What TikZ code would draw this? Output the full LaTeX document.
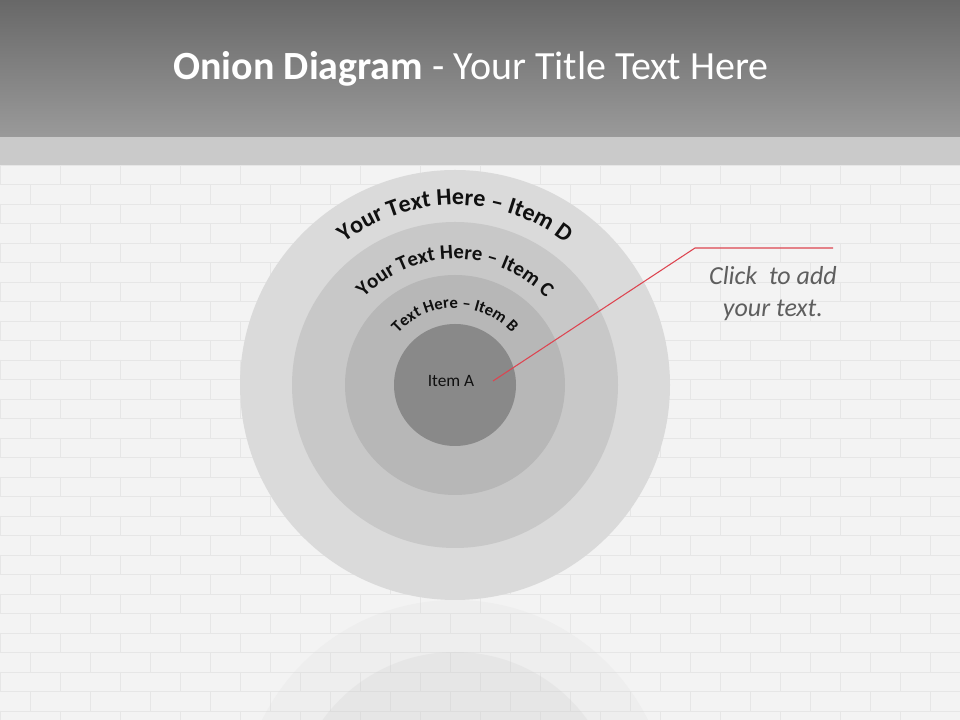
\documentclass[tikz,border=0pt]{standalone}
\usepackage{fontspec}
\setmainfont{Carlito}
\usepackage{tikz}
\usetikzlibrary{calc,positioning,decorations.text}
\definecolor{bannertop}{HTML}{686868}
\definecolor{bannerbot}{HTML}{9A9A9A}
\definecolor{bandcol}{HTML}{C6C6C6}
\definecolor{wallcol}{HTML}{F3F3F3}
\definecolor{mortarcol}{HTML}{E6E6E6}
\definecolor{ringDcol}{HTML}{DADADA}
\definecolor{ringCcol}{HTML}{C8C8C8}
\definecolor{ringBcol}{HTML}{B7B7B7}
\definecolor{ringAcol}{HTML}{898989}
\definecolor{arctxtcol}{HTML}{101010}
\definecolor{calloutcol}{HTML}{DD4450}
\definecolor{notecol}{HTML}{5E5E5E}

\begin{document}
\begin{tikzpicture}[x=0.75pt, y=0.75pt,
  ring/.style={circle, inner sep=0pt, draw=none},
  mortar/.style={mortarcol, line width=0.5pt},
  mirror/.style={opacity=0.2},
  callout/.style={calloutcol, line width=0.8pt}
]
  \useasboundingbox (0,0) rectangle (960,720);
  % wall
  \fill[wallcol] (0,0) rectangle (960,583);
  \foreach \r in {0,...,28}{
    \pgfmathsetmacro{\yy}{555-19.5*\r}
    \pgfmathsetmacro{\off}{mod(\r,2)*30}
    \draw[mortar] (0,\yy) -- (960,\yy);
    \foreach \k in {0,...,16}
      \draw[mortar] ({\off+60*\k},\yy) -- ++(0,-19.5);
  }
  \fill[bandcol, opacity=0.9] (0,555) rectangle (960,583);
  % title banner
  \shade[top color=bannertop, bottom color=bannerbot] (0,583) rectangle (960,720);
  \node[font=\fontsize{30}{35}\selectfont, text=white] (title) at (471,651)
    {\textbf{Onion Diagram} - Your Title Text Here};

  % reflection
  \begin{scope}
    \clip (0,0) rectangle (960,600);
    \fill[ringDcol, mirror] (455,-95) circle[radius=215];
    \fill[ringCcol, mirror] (455,-95) circle[radius=163];
  \end{scope}

  % rings
  \node[ring, fill=ringDcol, minimum size=322.5pt] (ringD) at (455,335) {};
  \node[ring, fill=ringCcol, minimum size=244.5pt] (ringC) at (455,335) {};
  \node[ring, fill=ringBcol, minimum size=165pt] (ringB) at (455,335) {};
  \node[ring, fill=ringAcol, minimum size=91.5pt] (ringA) at (455,335) {};
  \node[font=\fontsize{13}{15}\selectfont, text=arctxtcol] (itemA) at (451,339) {Item A};

  \path[decorate, decoration={text along path, text align=center,
      text={|\fontsize{18}{20}\selectfont\bfseries\color{arctxtcol}|Your Text Here – Item D}}]
    (ringD.center) ++(150:180) arc[start angle=150, end angle=30, radius=180];
  \path[decorate, decoration={text along path, text align=center,
      text={|\fontsize{15.5}{17}\selectfont\bfseries\color{arctxtcol}|Your Text Here – Item C}}]
    (ringC.center) ++(160:126) arc[start angle=160, end angle=20, radius=126];
  \path[decorate, decoration={text along path, text align=center,
      text={|\fontsize{12.5}{14}\selectfont\bfseries\color{arctxtcol}|Text Here – Item B}}]
    (ringB.center) ++(170:77) arc[start angle=170, end angle=10, radius=77];

  % callout
  \coordinate (tip) at (493,339);
  \coordinate (knee) at (695,472);
  \coordinate (tail) at (833,472);
  \draw[callout] (tip) -- (knee) -- (tail);
  \node[font=\fontsize{19.5}{24}\selectfont\itshape, text=notecol, align=center] (note)
    at (773,426) {Click \ to add\\your text.};
\end{tikzpicture}
\end{document}
